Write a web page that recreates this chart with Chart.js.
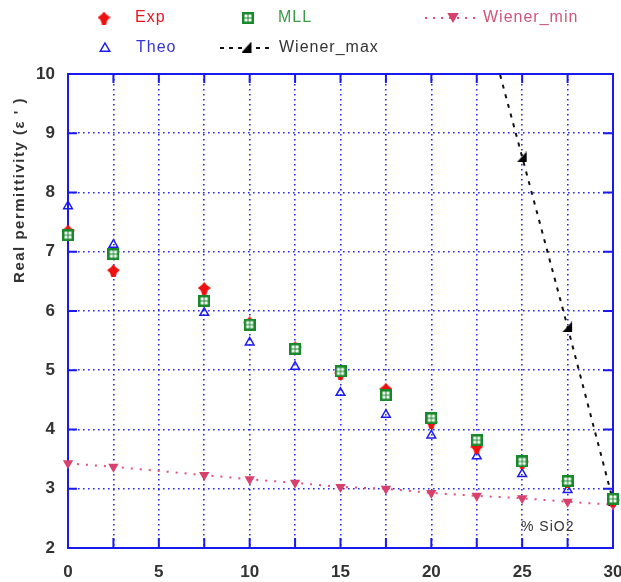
<!DOCTYPE html>
<html>
<head>
<meta charset="utf-8">
<title>Real permittivity vs SiO2 content</title>
<script src="https://cdn.jsdelivr.net/npm/chart.js@4.4.1/dist/chart.umd.min.js"></script>
<style>
  html, body { margin: 0; padding: 0; background: #ffffff; }
  #wrap { width: 621px; height: 582px; }
</style>
</head>
<body>
<div id="wrap"><canvas id="chart" width="621" height="582"></canvas></div>
<script>
// SiO2 content (%) of each sample
const percentSiO2 = [0, 2.5, 7.5, 10, 12.5, 15, 17.5, 20, 22.5, 25, 27.5, 30];

// Real permittivity values per series
const expValues   = [7.35, 6.68, 6.38, 5.80, 5.38, 4.95, 4.68, 4.12, 3.70, 3.45, 3.12, 2.80];
const mllValues   = [7.28, 6.96, 6.17, 5.77, 5.36, 4.98, 4.58, 4.19, 3.82, 3.46, 3.13, 2.83];
const theoValues  = [7.77, 7.12, 5.97, 5.47, 5.06, 4.62, 4.25, 3.90, 3.55, 3.25, 2.98, 2.78];
const wienerMin   = [3.43, 3.37, 3.23, 3.16, 3.10, 3.03, 3.00, 2.93, 2.88, 2.84, 2.78, 2.73];
const wienerMax   = [null, null, null, null, null, null, null, null, 11.45, 8.60, 5.73, 2.80];

// Axis ticks
const xTicks = [0, 2.5, 5, 7.5, 10, 12.5, 15, 17.5, 20, 22.5, 25, 27.5, 30];
const xTickLabels = ['0', '', '5', '', '10', '', '15', '', '20', '', '25', '', '30'];
const yTicks = [2, 3, 4, 5, 6, 7, 8, 9, 10];

const toPoints = vals => percentSiO2.map((x, i) => ({ x: x, y: vals[i] }));

// Marker images
function marker(w, h, draw) {
  const c = document.createElement('canvas');
  c.width = w; c.height = h;
  draw(c.getContext('2d'), w, h);
  return c;
}
const expMarker = marker(13, 13, (g) => {
  g.fillStyle = '#ee1111';
  g.beginPath();
  g.moveTo(6.5, 0); g.lineTo(9, 3); g.lineTo(13, 6); g.lineTo(10, 8.5);
  g.lineTo(8.5, 13); g.lineTo(4.5, 13); g.lineTo(3, 8.5); g.lineTo(0, 6); g.lineTo(4, 3);
  g.closePath(); g.fill();
});
const mllMarker = marker(12, 12, (g) => {
  g.fillStyle = '#18882a';
  g.fillRect(0, 0, 12, 12);
  g.fillStyle = '#ffffff';
  g.fillRect(2.5, 2.5, 3, 3); g.fillRect(6.5, 2.5, 3, 3);
  g.fillRect(2.5, 6.5, 3, 3); g.fillRect(6.5, 6.5, 3, 3);
});
const maxMarker = marker(11, 11, (g) => {
  g.fillStyle = '#000000';
  g.beginPath();
  g.moveTo(10, 0); g.lineTo(10, 11); g.lineTo(0, 11);
  g.closePath(); g.fill();
});

const BLUE = '#1a1aee';
const GRID = 'rgba(30,30,235,0.95)';
const TEXT = '#333333';

// Frame, inward ticks, legend and annotations
const decorations = {
  id: 'decorations',
  beforeDatasetsDraw(chart) {
    const { ctx, chartArea: a, scales } = chart;
    const xs = scales.x, ys = scales.y;
    ctx.save();
    ctx.strokeStyle = BLUE;
    ctx.lineWidth = 2;
    ctx.setLineDash([]);
    ctx.strokeRect(a.left, a.top, a.right - a.left, a.bottom - a.top);
    ctx.beginPath();
    xTicks.forEach(v => {
      const px = xs.getPixelForValue(v);
      ctx.moveTo(px, a.bottom); ctx.lineTo(px, a.bottom - 10);
      ctx.moveTo(px, a.top); ctx.lineTo(px, a.top + 9);
    });
    yTicks.forEach(v => {
      const py = ys.getPixelForValue(v);
      ctx.moveTo(a.left, py); ctx.lineTo(a.left + 9, py);
      ctx.moveTo(a.right, py); ctx.lineTo(a.right - 10, py);
    });
    ctx.stroke();
    ctx.restore();
  },
  afterDraw(chart) {
    const { ctx } = chart;
    const ds = chart.data.datasets;
    ctx.save();
    ctx.textBaseline = 'middle';
    ctx.textAlign = 'left';
    ctx.font = '16px "Liberation Sans", Arial, sans-serif';
    try { ctx.letterSpacing = '1px'; } catch (e) {}

    const drawImg = (img, x, y) => ctx.drawImage(img, x - img.width / 2, y - img.height / 2);
    const drawTri = (x, y, r, down, fill, stroke) => {
      ctx.save();
      ctx.translate(x, y);
      if (down) ctx.rotate(Math.PI);
      ctx.beginPath();
      ctx.moveTo(0, -r); ctx.lineTo(r * 0.95, r * 0.65); ctx.lineTo(-r * 0.95, r * 0.65);
      ctx.closePath();
      if (fill) { ctx.fillStyle = fill; ctx.fill(); }
      if (stroke) { ctx.strokeStyle = stroke; ctx.lineWidth = 1.5; ctx.stroke(); }
      ctx.restore();
    };
    const dashLine = (x1, x2, y, color, dash, w) => {
      ctx.save();
      ctx.strokeStyle = color; ctx.lineWidth = w; ctx.setLineDash(dash);
      ctx.beginPath(); ctx.moveTo(x1, y); ctx.lineTo(x2, y); ctx.stroke();
      ctx.restore();
    };

    // Row 1
    drawImg(expMarker, 104, 18);
    ctx.fillStyle = '#e8141c'; ctx.fillText(ds[1].label, 135, 18);
    drawImg(mllMarker, 248, 18);
    ctx.fillStyle = '#3a9a4a'; ctx.fillText(ds[0].label, 278, 18);
    dashLine(425, 478, 18, '#e0507a', [2, 6], 2);
    drawTri(453, 17, 6, true, '#d8406e', null);
    ctx.fillStyle = '#d0557a'; ctx.fillText(ds[3].label, 483, 18);

    // Row 2
    drawTri(105, 48, 5, false, null, BLUE);
    ctx.fillStyle = '#3535d5'; ctx.fillText(ds[2].label, 136, 48);
    dashLine(220, 273, 48, '#111111', [4, 5], 2);
    drawImg(maxMarker, 247, 47);
    ctx.fillStyle = TEXT; ctx.fillText(ds[4].label, 279, 48);

    // Axis title and unit label
    ctx.fillStyle = TEXT;
    ctx.font = 'bold 15px "Liberation Sans", Arial, sans-serif';
    try { ctx.letterSpacing = '1.5px'; } catch (e) {}
    ctx.textAlign = 'center';
    ctx.save();
    ctx.translate(20, 190);
    ctx.rotate(-Math.PI / 2);
    ctx.fillText('Real permittivity (\u03B5 \' )', 0, 0);
    ctx.restore();
    try { ctx.letterSpacing = '1px'; } catch (e) {}
    ctx.textAlign = 'left';
    ctx.font = '14px "Liberation Sans", Arial, sans-serif';
    ctx.fillText('% SiO2', 521, 527);
    ctx.restore();
  }
};

new Chart(document.getElementById('chart'), {
  type: 'line',
  data: {
    datasets: [
      {
        label: 'MLL', data: toPoints(mllValues), showLine: false, clip: 10,
        pointStyle: mllMarker, pointRadius: 6, borderColor: '#18882a', backgroundColor: '#18882a'
      },
      {
        label: 'Exp', data: toPoints(expValues), showLine: false, clip: 10,
        pointStyle: expMarker, pointRadius: 6, borderColor: '#ee1111', backgroundColor: '#ee1111'
      },
      {
        label: 'Theo', data: toPoints(theoValues), showLine: false, clip: 10,
        pointStyle: 'triangle', pointRadius: 5, pointBorderWidth: 1.5,
        borderColor: BLUE, backgroundColor: 'rgba(0,0,0,0)'
      },
      {
        label: 'Wiener_min', data: toPoints(wienerMin), showLine: true, clip: 10,
        borderColor: '#e0507a', borderWidth: 2, borderDash: [2, 7],
        pointStyle: 'triangle', rotation: 180, pointRadius: 6, pointBorderWidth: 0,
        backgroundColor: '#d8406e', pointBackgroundColor: '#d8406e', tension: 0
      },
      {
        label: 'Wiener_max', data: toPoints(wienerMax), showLine: true, spanGaps: false,
        borderColor: '#111111', borderWidth: 2, borderDash: [4, 6],
        pointStyle: maxMarker, pointRadius: 6,
        backgroundColor: '#000000', tension: 0
      }
    ]
  },
  options: {
    responsive: false,
    animation: false,
    layout: { padding: { top: 74, right: 8, left: 0, bottom: 0 } },
    plugins: {
      legend: { display: false },
      tooltip: { enabled: false }
    },
    scales: {
      x: {
        type: 'linear', min: 0, max: 30,
        afterBuildTicks: s => { s.ticks = xTicks.map(v => ({ value: v })); },
        afterFit: s => { s.height = 34; s.paddingLeft = 0; s.paddingRight = 0; },
        ticks: {
          autoSkip: false, maxRotation: 0, padding: 14,
          color: TEXT, font: { family: '"Liberation Sans", Arial, sans-serif', size: 17, weight: 'bold' },
          callback: (v, i) => xTickLabels[i]
        },
        grid: { color: GRID, lineWidth: 1.6, drawTicks: false },
        border: { display: false, dash: [1.6, 3.4] }
      },
      y: {
        type: 'linear', min: 2, max: 10,
        afterBuildTicks: s => { s.ticks = yTicks.map(v => ({ value: v })); },
        afterFit: s => { s.width = 68; s.paddingTop = 0; s.paddingBottom = 0; },
        ticks: {
          padding: 13, color: TEXT,
          font: { family: '"Liberation Sans", Arial, sans-serif', size: 17, weight: 'bold' }
        },
        grid: { color: GRID, lineWidth: 1.6, drawTicks: false },
        border: { display: false, dash: [1.6, 3.4] }
      }
    }
  },
  plugins: [decorations]
});
</script>
</body>
</html>
